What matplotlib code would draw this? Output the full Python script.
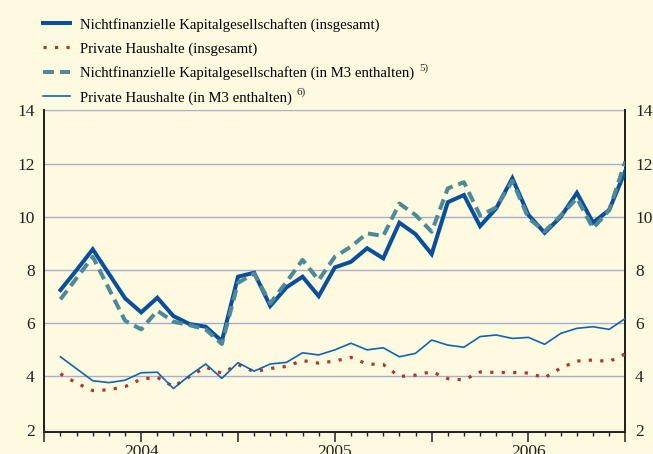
import matplotlib
matplotlib.use("Agg")
import matplotlib.pyplot as plt

plt.rcParams["font.family"] = ["Liberation Serif", "DejaVu Serif"]

# Monthly observations, Jan 2004 .. Dec 2006 (index 1..36)
months = list(range(1, 37))
year_labels = ["", "2004", "", "2005", "", "2006", ""]
y_ticks = [2, 4, 6, 8, 10, 12, 14]

nfk_total = [7.25, 8.0, 8.78, 7.86, 6.94, 6.41, 6.96, 6.27, 5.97, 5.87, 5.33, 7.75,
             7.9, 6.65, 7.35, 7.75, 7.02, 8.1, 8.31, 8.82, 8.44, 9.78, 9.35, 8.6,
             10.55, 10.82, 9.65, 10.32, 11.45, 10.07, 9.4, 10.0, 10.9, 9.78, 10.26, 11.73]
ph_total = [4.1, 3.75, 3.47, 3.5, 3.62, 3.9, 3.97, 3.62, 4.0, 4.35, 4.12, 4.45,
            4.18, 4.3, 4.38, 4.6, 4.5, 4.58, 4.72, 4.47, 4.45, 4.0, 4.05, 4.18,
            3.92, 3.87, 4.17, 4.15, 4.15, 4.13, 3.95, 4.32, 4.58, 4.62, 4.56, 4.85]
nfk_m3 = [6.9, 7.7, 8.5, 7.3, 6.1, 5.77, 6.47, 6.06, 5.93, 5.77, 5.22, 7.52,
          7.87, 6.75, 7.55, 8.38, 7.62, 8.5, 8.88, 9.38, 9.28, 10.5, 10.07, 9.44,
          11.07, 11.3, 10.05, 10.35, 11.35, 9.95, 9.45, 10.05, 10.7, 9.57, 10.25, 12.08]
ph_m3 = [4.74, 4.29, 3.84, 3.77, 3.86, 4.14, 4.16, 3.55, 4.04, 4.47, 3.93, 4.52,
         4.2, 4.47, 4.53, 4.89, 4.81, 5.0, 5.25, 5.0, 5.08, 4.74, 4.87, 5.37,
         5.18, 5.1, 5.5, 5.56, 5.43, 5.47, 5.21, 5.62, 5.81, 5.87, 5.77, 6.18]

labels = [
    "Nichtfinanzielle Kapitalgesellschaften (insgesamt)",
    "Private Haushalte (insgesamt)",
    "Nichtfinanzielle Kapitalgesellschaften (in M3 enthalten)",
    "Private Haushalte (in M3 enthalten)",
]
footnotes = ["", "", "5)", "6)"]

bg = "#FDFADF"
fig = plt.figure(figsize=(6.53, 4.54), dpi=100, facecolor=bg)
ax = fig.add_axes([0.0679, 0.0535, 0.8897, 0.7033], facecolor=bg)

# horizontal grid
for v in y_ticks:
    ax.axhline(v, color="#A9ADD2", lw=1.0, zorder=1)

l1, = ax.plot(months, nfk_total, color="#0A4F9E", lw=2.9, solid_joinstyle="miter", zorder=3)
l2, = ax.plot(months, ph_total, color="#B0362F", lw=2.3, ls=(0, (1, 2.6)),
              dash_capstyle="butt", zorder=3)
l3, = ax.plot(months, nfk_m3, color="#4C8A9A", lw=2.9, ls=(0, (2.7, 1.5)),
              dash_capstyle="butt", zorder=4)
l4, = ax.plot(months, ph_m3, color="#1263B0", lw=1.2, zorder=4)

ax.set_xlim(0, 36)
ax.set_ylim(2, 14)

ax.spines["top"].set_visible(False)
for side in ["left", "right", "bottom"]:
    ax.spines[side].set_color("#1E1E1E")
    ax.spines[side].set_linewidth(1.4)
ax.spines["bottom"].set_position(("outward", 2))

ax.set_yticks(y_ticks)
ax.tick_params(axis="y", which="both", length=0, labelsize=12.5, pad=7,
               labelleft=True, labelright=True, colors="#222222")

ax.set_xticks(list(range(0, 37, 6)))
ax.set_xticklabels(year_labels)
ax.set_xticks(list(range(0, 37)), minor=True)
ax.tick_params(axis="x", which="major", direction="out", length=7.5, width=1.1,
               labelsize=12.5, pad=1, colors="#222222")
ax.tick_params(axis="x", which="minor", direction="out", length=3.2, width=1.0,
               colors="#222222")

leg = fig.legend([l1, l2, l3, l4], labels, loc="upper left",
                 bbox_to_anchor=(0.0658, 0.961), frameon=False, fontsize=10.65,
                 handlelength=1.82, handletextpad=0.68, labelspacing=0.72,
                 borderpad=0, borderaxespad=0)

# footnote markers set as small raised text after each legend entry
fig.canvas.draw()
renderer = fig.canvas.get_renderer()
for txt, note in zip(leg.get_texts(), footnotes):
    if not note:
        continue
    bb = txt.get_window_extent(renderer)
    fig.text((bb.x1 + 5) / fig.bbox.width, (bb.y0 + 9.5) / fig.bbox.height, note,
             fontsize=8, va="baseline", ha="left", color="#222222")

fig.savefig("out.png", dpi=100, facecolor=bg)
